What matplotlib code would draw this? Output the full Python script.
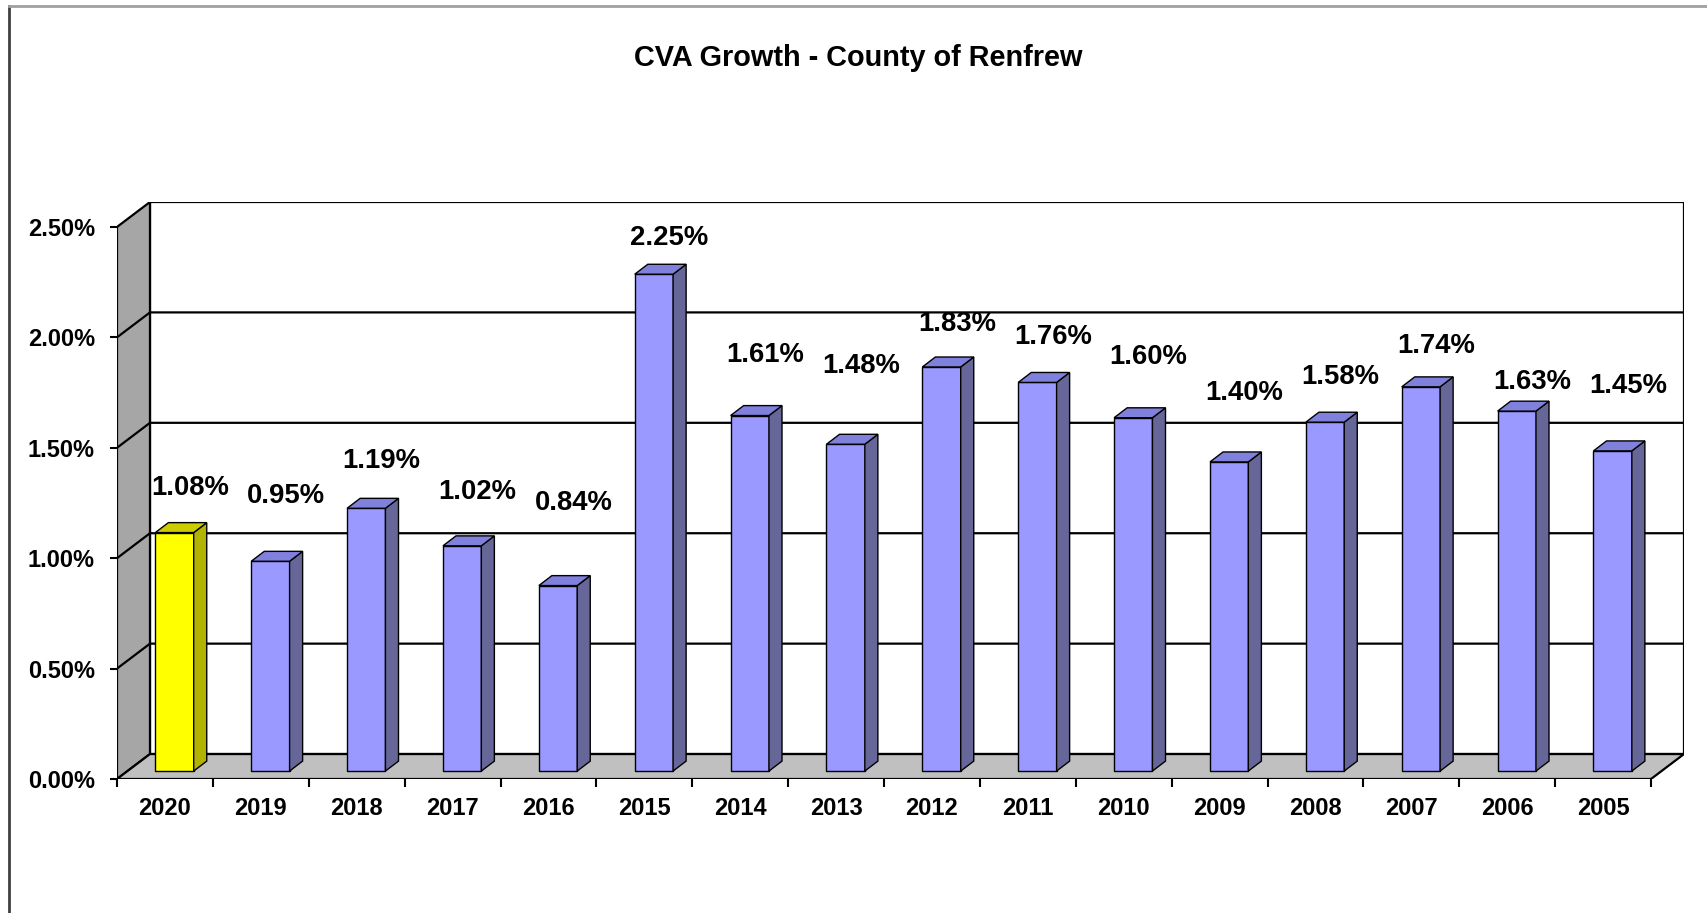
import matplotlib.pyplot as plt
from matplotlib.patches import Polygon, Rectangle
from matplotlib.lines import Line2D

# data
years = ['2020', '2019', '2018', '2017', '2016', '2015', '2014', '2013',
         '2012', '2011', '2010', '2009', '2008', '2007', '2006', '2005']
growth = [1.08, 0.95, 1.19, 1.02, 0.84, 2.25, 1.61, 1.48,
          1.83, 1.76, 1.60, 1.40, 1.58, 1.74, 1.63, 1.45]
highlight_year = '2020'
y_ticks = [0.0, 0.5, 1.0, 1.5, 2.0, 2.5]
title = 'CVA Growth - County of Renfrew'

# layout (label height above each bar, as placed in the original)
label_lift = [0.24, 0.33, 0.25, 0.28, 0.41, 0.20, 0.31, 0.39,
              0.23, 0.24, 0.31, 0.35, 0.24, 0.22, 0.17, 0.33]

plt.rcParams['font.family'] = ['Liberation Sans', 'DejaVu Sans']
plt.rcParams['font.weight'] = 'bold'

W, H = 1707, 913
fig = plt.figure(figsize=(W / 100, H / 100), dpi=100)
ax = fig.add_axes([117 / W, (H - 779) / H, (1684 - 117) / W, (779 - 202) / H])

n = len(years)
ymax = y_ticks[-1]
DX, DY = 0.344, 0.113          # depth of the walls/floor
BX, BY = 0.10, 0.036           # bar offset from front edge
BW = 0.40                      # bar width
SX, SY = 0.136, 0.045          # bar depth

ax.set_xlim(0, n + DX)
ax.set_ylim(0, ymax + DY)

# walls and floor
ax.add_patch(Rectangle((DX, DY), n, ymax, facecolor='white', edgecolor='black', lw=1.6, zorder=0.5))
ax.add_patch(Polygon([(0, 0), (DX, DY), (DX, ymax + DY), (0, ymax)],
                     facecolor='#a6a6a6', edgecolor='black', lw=1.6, zorder=1))
ax.add_patch(Polygon([(0, 0), (n, 0), (n + DX, DY), (DX, DY)],
                     facecolor='#c0c0c0', edgecolor='black', lw=1.6, zorder=1))

# gridlines
for v in y_ticks[1:-1]:
    ax.plot([0, DX, n + DX], [v, v + DY, v + DY], color='black', lw=1.6, zorder=2)

# bars
for i, (yr, v) in enumerate(zip(years, growth)):
    if yr == highlight_year:
        front, side, top = '#ffff00', '#b2b200', '#cccc00'
    else:
        front, side, top = '#9999ff', '#666699', '#8080dd'
    xl = i + 0.5 + BX - BW / 2
    xr = xl + BW
    b = BY
    ax.add_patch(Polygon([(xl, b), (xr, b), (xr, b + v), (xl, b + v)],
                         facecolor=front, edgecolor='black', lw=1, zorder=3))
    ax.add_patch(Polygon([(xr, b), (xr + SX, b + SY), (xr + SX, b + SY + v), (xr, b + v)],
                         facecolor=side, edgecolor='black', lw=1, zorder=3))
    ax.add_patch(Polygon([(xl, b + v), (xr, b + v), (xr + SX, b + v + SY), (xl + SX, b + v + SY)],
                         facecolor=top, edgecolor='black', lw=1, zorder=3))
    ax.text(i + 0.76, v + label_lift[i], f'{v:.2f}%', ha='center', va='center',
            fontsize=19.8, fontweight='bold', zorder=4)

# axes ticks
for s in ax.spines.values():
    s.set_visible(False)
ax.set_xticks(range(n + 1))
ax.set_xticklabels([])
ax.set_xticks([i + 0.5 for i in range(n)], minor=True)
ax.set_xticklabels(years, minor=True)
ax.tick_params(axis='x', which='major', direction='out', length=6, width=1.5)
ax.tick_params(axis='x', which='minor', length=0, pad=13, labelsize=17)
ax.set_yticks(y_ticks)
ax.set_yticklabels([f'{v:.2f}%' for v in y_ticks])
ax.tick_params(axis='y', direction='out', length=5, width=1.5, pad=11, labelsize=17)

# chart border
fig.add_artist(Line2D([9 / W, 9 / W], [0, 1 - 6 / H], transform=fig.transFigure, color='#404040', lw=2))
fig.add_artist(Line2D([9 / W, 1], [1 - 6 / H, 1 - 6 / H], transform=fig.transFigure, color='#a0a0a0', lw=2))

fig.text(0.503, 1 - 58 / H, title, ha='center', va='center', fontsize=20.8, fontweight='bold')

fig.savefig('out.png', dpi=100)
